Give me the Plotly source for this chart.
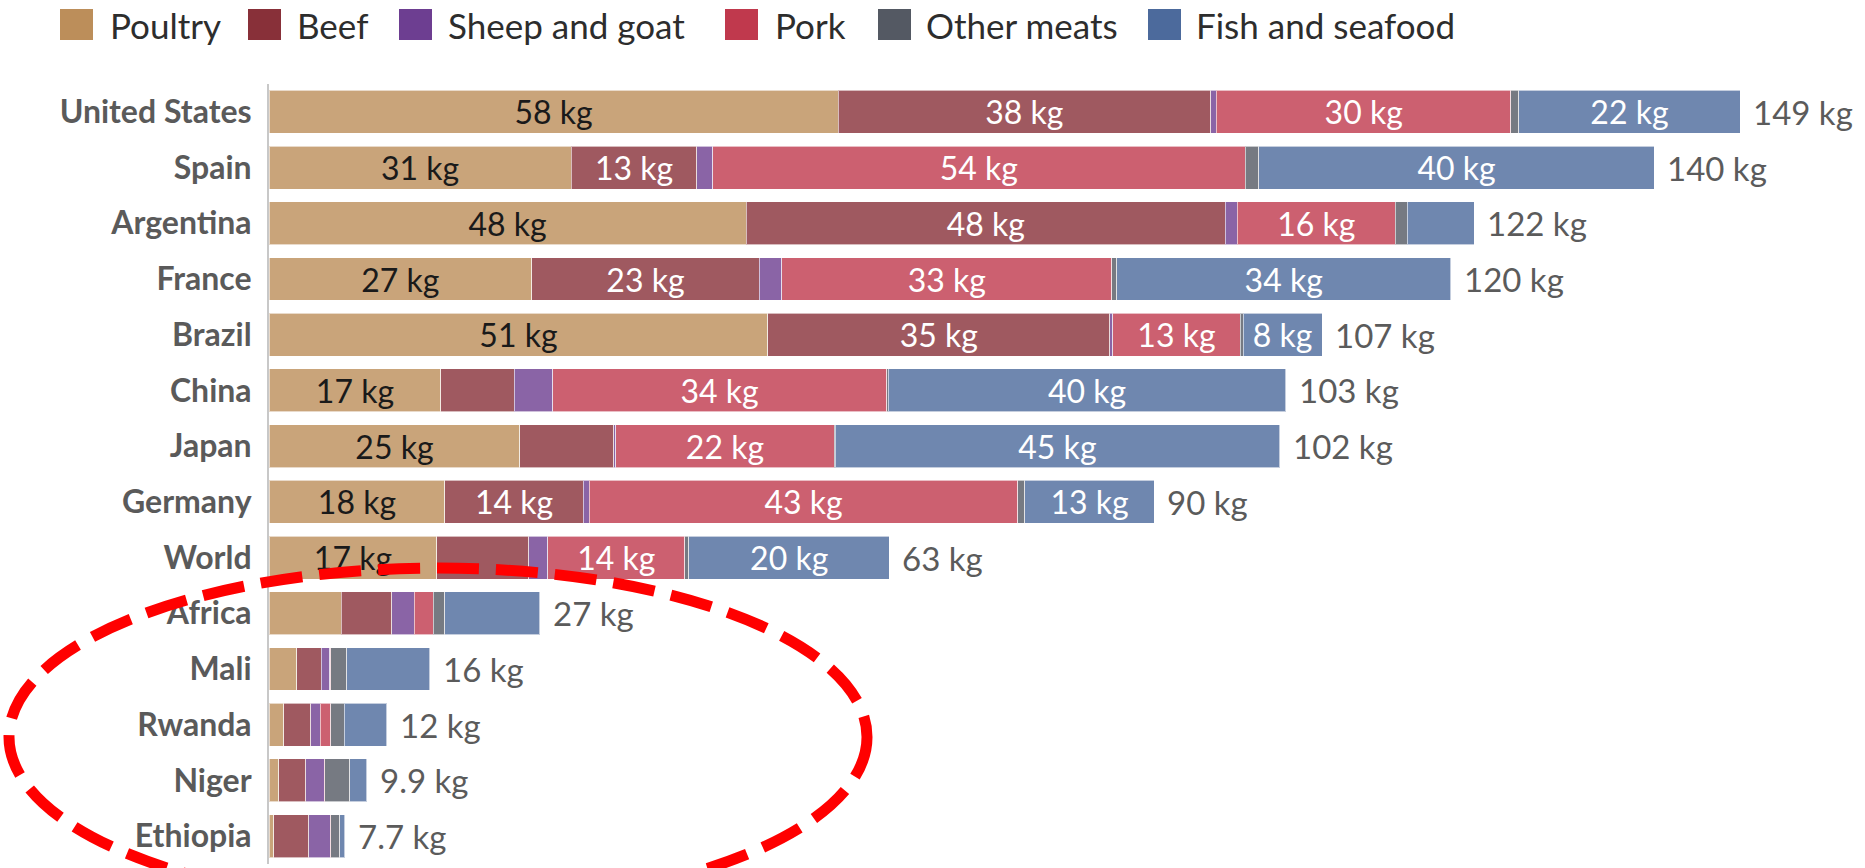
import plotly.graph_objects as go

countries = ["United States", "Spain", "Argentina", "France", "Brazil", "China", "Japan",
             "Germany", "World", "Africa", "Mali", "Rwanda", "Niger", "Ethiopia"]

poultry = [57.6, 30.6, 48.3, 26.6, 50.5, 17.4, 25.4, 17.8, 17.0, 7.3, 2.8, 1.5, 1.0, 0.5]
beef = [37.7, 12.7, 48.5, 23.0, 34.6, 7.4, 9.5, 14.0, 9.3, 5.1, 2.5, 2.7, 2.7, 3.5]
sheep_goat = [0.6, 1.6, 1.2, 2.3, 0.3, 3.9, 0.2, 0.6, 1.9, 2.3, 0.85, 1.0, 1.9, 2.2]
pork = [29.8, 53.9, 16.0, 33.4, 12.9, 33.8, 22.1, 43.4, 13.9, 1.9, 0.1, 1.05, 0.05, 0.03]
other_meats = [0.8, 1.4, 1.2, 0.5, 0.3, 0.2, 0.1, 0.7, 0.4, 1.2, 1.6, 1.35, 2.5, 0.93]
fish_seafood = [22.4, 40.0, 6.8, 33.8, 8.0, 40.2, 45.0, 13.1, 20.3, 9.6, 8.4, 4.3, 1.75, 0.5]

poultry_labels = ["58 kg", "31 kg", "48 kg", "27 kg", "51 kg", "17 kg", "25 kg", "18 kg", "17 kg",
                  "", "", "", "", ""]
beef_labels = ["38 kg", "13 kg", "48 kg", "23 kg", "35 kg", "", "", "14 kg", "", "", "", "", "", ""]
sheep_labels = [""] * 14
pork_labels = ["30 kg", "54 kg", "16 kg", "33 kg", "13 kg", "34 kg", "22 kg", "43 kg", "14 kg",
               "", "", "", "", ""]
other_labels = [""] * 14
fish_labels = ["22 kg", "40 kg", "", "34 kg", "8 kg", "40 kg", "45 kg", "13 kg", "20 kg",
               "", "", "", "", ""]

series = [
    ("Poultry", poultry, poultry_labels, "#BC8E5A", "#1a1a1a"),
    ("Beef", beef, beef_labels, "#883039", "#ffffff"),
    ("Sheep and goat", sheep_goat, sheep_labels, "#6D3E91", "#ffffff"),
    ("Pork", pork, pork_labels, "#C0394D", "#ffffff"),
    ("Other meats", other_meats, other_labels, "#545963", "#ffffff"),
    ("Fish and seafood", fish_seafood, fish_labels, "#4C6A9C", "#ffffff"),
]

# layout geometry (pixels; the page body margin is removed by post_script)
W, H = 1865, 868
ML, MR, MT, MB = 269, 0, 84, 4
PW, PH = W - ML - MR, H - MT - MB
XMAX = PW / 9.88


def px_x(px):
    return (px - ML) / PW


def px_y(py):
    return (H - MB - py) / PH


FONT = "Lato"
fig = go.Figure()
for name, vals, labels, color, tcolor in series:
    fig.add_trace(go.Bar(
        name=name, y=countries, x=vals, orientation="h",
        marker=dict(color=color, opacity=0.8, line=dict(color="rgba(255,255,255,0.6)", width=1)),
        text=labels, textposition="inside", insidetextanchor="middle", textangle=0,
        constraintext="none",
        insidetextfont=dict(family=FONT, size=32, color=tcolor),
        hoverinfo="x+y+name", showlegend=False,
    ))

totals = [sum(v) for v in zip(poultry, beef, sheep_goat, pork, other_meats, fish_seafood)]


def fmt(t):
    return f"{round(t):.0f} kg" if t >= 10 else f"{t:.1f} kg"


for c, t in zip(countries, totals):
    fig.add_annotation(x=t, y=c, text=fmt(t), showarrow=False, xanchor="left", xshift=11,
                       font=dict(family=FONT, size=33, color="#5b5b5b"))

# legend (drawn manually for large swatches)
legend_swatch_x = [60, 248, 399, 725, 878, 1148]
legend_text_x = [108, 295, 446, 773, 924, 1194]
for (name, _, _, color, _), sx, tx in zip(series, legend_swatch_x, legend_text_x):
    fig.add_shape(type="rect", xref="paper", yref="paper",
                  x0=px_x(sx), x1=px_x(sx + 33), y0=px_y(40), y1=px_y(9),
                  fillcolor=color, line=dict(width=0), layer="above")
    fig.add_annotation(xref="paper", yref="paper", x=px_x(tx), y=px_y(25), text=name,
                       showarrow=False, xanchor="left", yanchor="middle",
                       font=dict(family=FONT, size=35, color="#2d2d2d"))

# red dashed ellipse highlight
fig.add_shape(type="circle", xref="paper", yref="paper",
              x0=px_x(9), x1=px_x(867), y0=px_y(906), y1=px_y(568),
              line=dict(color="#FF0000", width=11, dash="42px,17px"), layer="above")

fig.update_layout(
    width=W, height=H,
    barmode="stack", bargap=0.23,
    plot_bgcolor="white", paper_bgcolor="white",
    margin=dict(l=ML, r=MR, t=MT, b=MB, autoexpand=False),
    font=dict(family=FONT, color="#333"),
    showlegend=False,
    xaxis=dict(range=[0, XMAX], showgrid=False, zeroline=False, showticklabels=False,
               showline=False, fixedrange=True, automargin=False),
    yaxis=dict(categoryorder="array", categoryarray=countries, autorange="reversed",
               showgrid=False, zeroline=False, showline=True, linecolor="#c8c8c8", linewidth=2,
               ticks="", ticklabelstandoff=9, automargin=False,
               tickfont=dict(family=FONT, size=32, color="#5a5a5a", weight="bold")),
)

fig.write_html("out.html", config={"displayModeBar": False},
               post_script="document.body.style.margin='0';document.body.style.overflow='hidden';")
